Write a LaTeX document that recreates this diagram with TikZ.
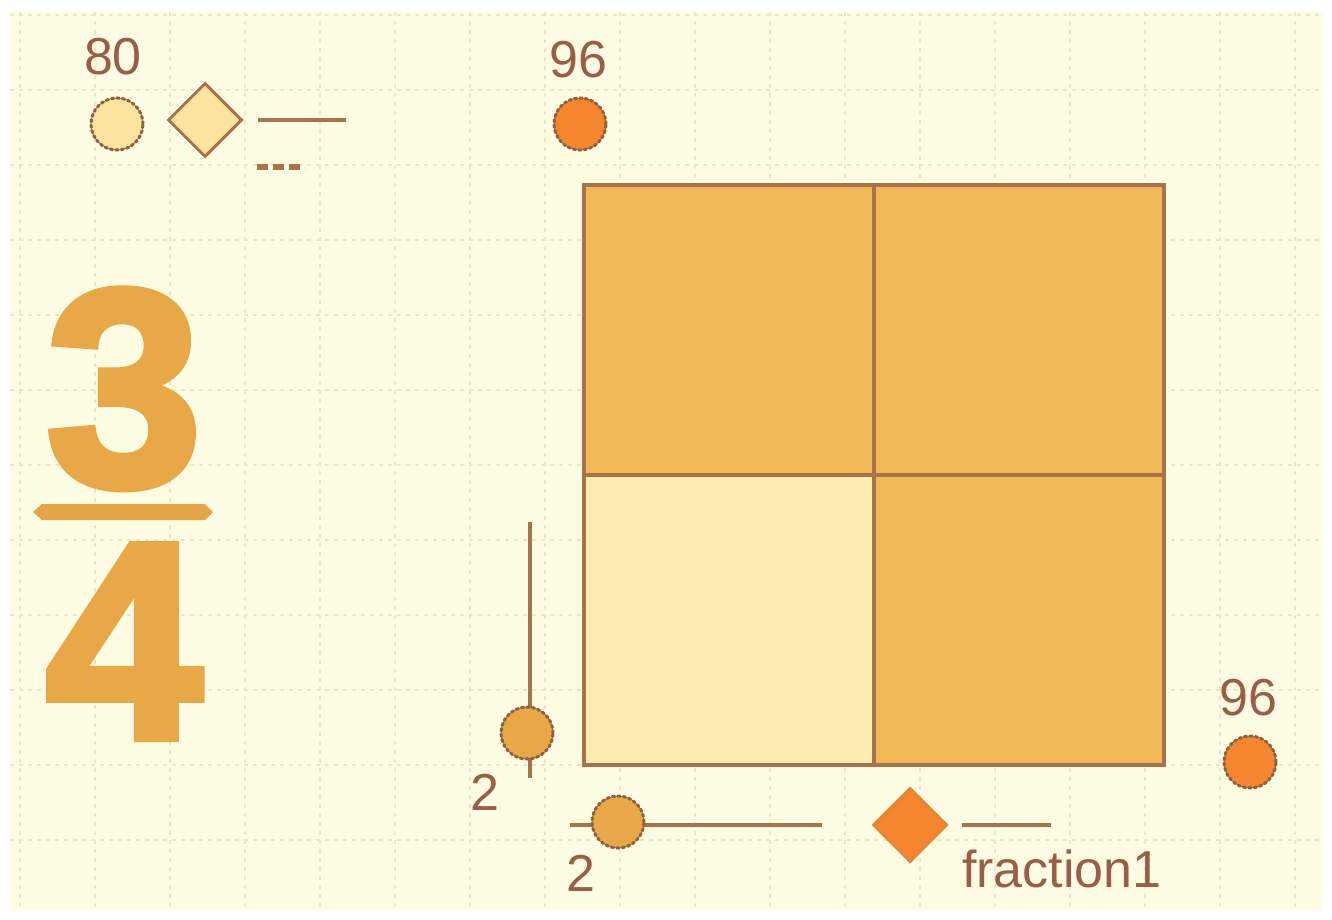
\documentclass[tikz,border=0pt]{standalone}
\usepackage{fontspec}
\setmainfont{Liberation Sans}
\newfontfamily\heavyfont[FakeBold=3]{Liberation Sans Bold}
\usetikzlibrary{shapes.geometric}
\definecolor{bg}{HTML}{FEFDE4}
\definecolor{gridc}{HTML}{E8E8C8}
\definecolor{brn}{HTML}{A8724A}
\definecolor{txt}{HTML}{9A5E48}
\definecolor{gold}{HTML}{F2B957}
\definecolor{pale}{HTML}{FEEDB0}
\definecolor{digit}{HTML}{E8A848}
\definecolor{orng}{HTML}{F5852E}
\definecolor{lemon}{HTML}{FDE49E}
\tikzset{
  cellbox/.style={draw=brn, line width=4pt, fill=gold, minimum width=290pt, minimum height=290pt, inner sep=0pt},
  dot/.style={circle, draw=brn!85!black, line width=3pt, dash pattern=on 2.5pt off 3pt, line cap=round, minimum size=52pt, inner sep=0pt},
  gem/.style={diamond, draw=brn, line width=3pt, minimum size=74pt, inner sep=0pt},
  lab/.style={text=txt, font=\fontsize{52}{56}\selectfont, inner sep=0pt},
  seg/.style={draw=brn, line width=4pt},
  big/.style={text=digit, font=\fontsize{280}{253}\heavyfont, inner sep=0pt, align=center}
}
\begin{document}
\begin{tikzpicture}[x=1pt,y=-1pt]
\useasboundingbox (0,0) rectangle (1332,920);
\fill[white] (0,0) rectangle (1332,920);
\fill[bg] (10,12) rectangle (1322,910);
% grid
\foreach \gx in {20,95,...,1310} \draw[gridc, line width=1.5pt, dash pattern=on 4pt off 5pt] (\gx,12) -- (\gx,910);
\foreach \gy in {15,90,...,905} \draw[gridc, line width=1.5pt, dash pattern=on 4pt off 5pt] (10,\gy) -- (1322,\gy);
% big fraction
\node[big, anchor=base] (frac) at (124,738) {3\\4};
\fill[digit!92!brown] (33,512) -- (42,504) -- (205,504) -- (213,512) -- (205,520) -- (42,520) -- cycle;
\coordinate (barL) at (33,512);
% square cells
\node[cellbox] (tl) at (729,330) {};
\node[cellbox] (tr) at (1019,330) {};
\node[cellbox, fill=pale] (bl) at (729,620) {};
\node[cellbox] (br) at (1019,620) {};
% top-left legend
\node[lab] (l80) at (113,57) {80};
\node[dot, fill=lemon] (c80) at (117,124) {};
\node[gem, fill=lemon] (d80) at (205,120) {};
\coordinate (s1a) at (258,120);
\coordinate (s1b) at (346,120);
\draw[seg] (s1a) -- (s1b);
\coordinate (s2a) at (257,167);
\coordinate (s2b) at (305,167);
\draw[brn, line width=6pt, dash pattern=on 11pt off 5pt] (s2a) -- (s2b);
% top 96
\node[lab] (l96a) at (578,60) {96};
\node[dot, fill=orng] (c96a) at (580,124) {};
% left vertical slider
\coordinate (vtop) at (530,522);
\coordinate (vbot) at (530,778);
\draw[seg] (vtop) -- (vbot);
\node[dot, fill=digit] (cv) at (527,733) {};
\node[lab] (l2a) at (485,792) {2};
% bottom horizontal slider
\coordinate (ha) at (570,825);
\coordinate (hb) at (822,825);
\draw[seg] (ha) -- (hb);
\node[dot, fill=digit] (ch) at (618,822) {};
\node[lab] (l2b) at (581,873) {2};
% bottom legend
\node[gem, fill=orng, draw=orng!80!brown] (dfr) at (910,825) {};
\coordinate (fa) at (962,825);
\coordinate (fb) at (1051,825);
\draw[seg] (fa) -- (fb);
\node[lab, anchor=west] (lfr) at (962,869) {fraction1};
% right 96
\node[lab] (l96b) at (1248,698) {96};
\node[dot, fill=orng] (c96b) at (1250,762) {};
\end{tikzpicture}
\end{document}
